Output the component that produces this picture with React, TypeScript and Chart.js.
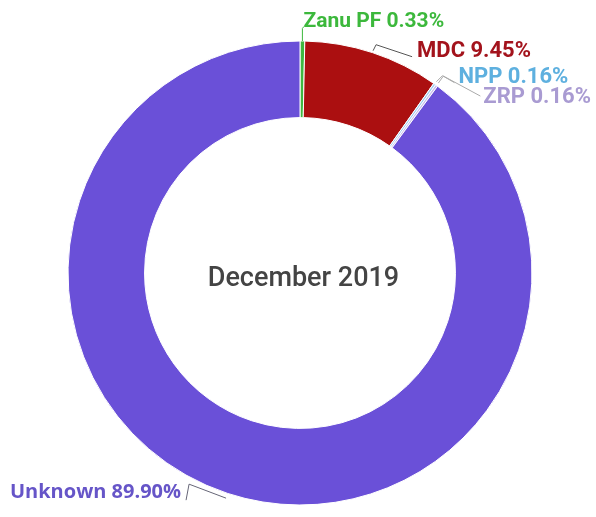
import React, { useEffect, useRef } from "react";
import { Chart, registerables } from "chart.js";

Chart.register(...registerables);

const categories = ["Zanu PF", "MDC", "NPP", "ZRP", "Unknown"];
const shares = [0.33, 9.45, 0.16, 0.16, 89.9];
const centerTitle = "December 2019";

const sliceColors = ["#3fb83f", "#ab0f10", "#9fcdf0", "#c9c1ee", "#6a50d8"];
const textColors = ["#3cb83c", "#a3131c", "#5eb0df", "#a99bd2", "#6655c8"];
const lineColors = ["#3cb83c", "#555555", "#aaaaaa", "#aaaaaa", "#666677"];

// leader line layout: ext = distance beyond outer radius where the line starts,
// path = points relative to start, text = text anchor relative to start
const labelLayout = [
  { ext: 0, path: [[0, 0], [0, -12.5], [1.5, -14.5]], text: [1, -14], align: "left", font: "bold 21px Roboto" },
  { ext: 2, path: [[0, 0], [3, -6], [39, 6]], text: [44, 6], align: "left", font: "bold 22px Roboto" },
  { ext: 3, path: [[0, 0], [6, -6], [18, 1]], text: [22, 1.5], align: "left", font: "bold 22px Roboto" },
  { ext: 3, path: [[0, 0], [5, -7], [42, 13]], text: [45, 19.5], align: "left", font: "bold 22px Roboto" },
  { ext: 5, path: [[0, 0], [-37, -14], [-40, 2]], text: [-45, 0], align: "right", font: "bold 20px 'Open Sans'" },
];

const labelPlugin = {
  id: "leaderLabels",
  afterDatasetsDraw(chart: any) {
    const ctx = chart.ctx;
    const meta = chart.getDatasetMeta(0);
    ctx.save();
    meta.data.forEach((arc: any, i: number) => {
      const { x, y, startAngle, endAngle, outerRadius } = arc.getProps(
        ["x", "y", "startAngle", "endAngle", "outerRadius"],
        true
      );
      const mid = (startAngle + endAngle) / 2;
      const lay = labelLayout[i];
      const r = outerRadius + lay.ext;
      const sx = x + Math.cos(mid) * r;
      const sy = y + Math.sin(mid) * r;
      ctx.beginPath();
      lay.path.forEach((p: number[], k: number) => {
        if (k === 0) ctx.moveTo(sx + p[0], sy + p[1]);
        else ctx.lineTo(sx + p[0], sy + p[1]);
      });
      ctx.strokeStyle = lineColors[i];
      ctx.lineWidth = 1;
      ctx.stroke();
      const label = `${categories[i]} ${shares[i].toFixed(2)}%`;
      ctx.font = lay.font;
      ctx.fillStyle = textColors[i];
      ctx.textAlign = lay.align;
      ctx.textBaseline = "alphabetic";
      ctx.fillText(label, sx + lay.text[0], sy + lay.text[1]);
    });
    const first = meta.data[0];
    if (first) {
      ctx.font = "500 27px Roboto";
      ctx.fillStyle = "#444444";
      ctx.textAlign = "center";
      ctx.textBaseline = "alphabetic";
      ctx.fillText(centerTitle, first.x + 3.5, first.y + 12.5);
    }
    ctx.restore();
  },
};

export default function App() {
  const ref = useRef<HTMLCanvasElement | null>(null);
  useEffect(() => {
    if (!ref.current) return;
    const chart = new Chart(ref.current, {
      type: "doughnut",
      data: {
        labels: categories,
        datasets: [
          {
            data: shares,
            backgroundColor: sliceColors,
            borderColor: "#ffffff",
            borderWidth: 1,
          },
        ],
      },
      options: {
        responsive: false,
        animation: false,
        cutout: "67%",
        layout: { padding: { top: 40.5, bottom: 11.5, left: 67.5, right: 63.5 } },
        plugins: {
          legend: { display: false },
          tooltip: { enabled: false },
        },
      },
      plugins: [labelPlugin],
    });
    return () => chart.destroy();
  }, []);
  return (
    <div style={{ position: "absolute", left: 0, top: 0, width: 596, height: 517, background: "#fff" }}>
      <canvas ref={ref} width={596} height={517} />
    </div>
  );
}
